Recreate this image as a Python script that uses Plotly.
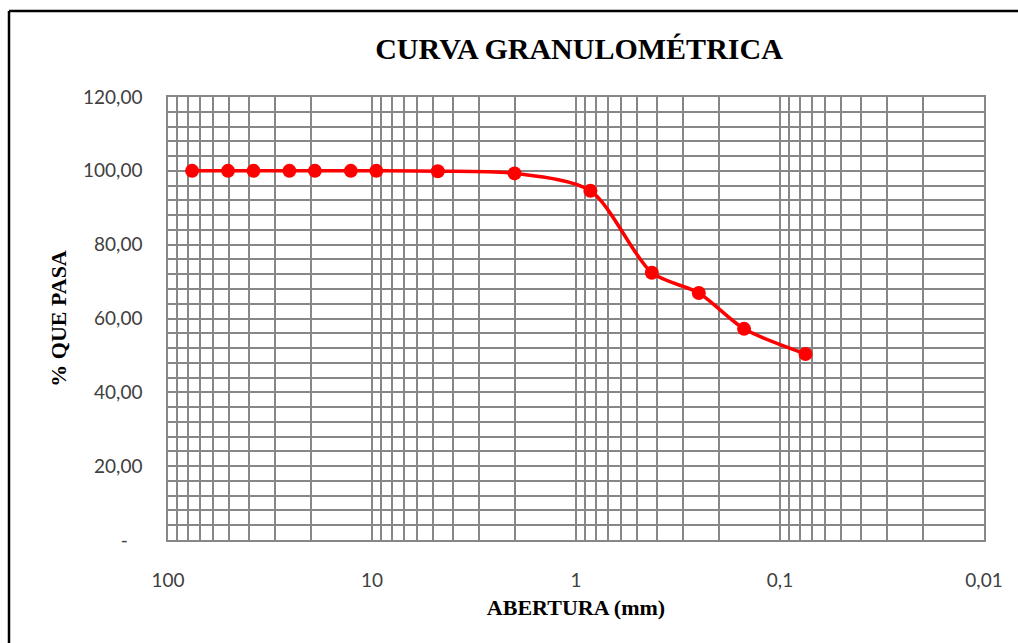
import plotly.graph_objects as go

# Data
abertura_mm = [76.2, 50.8, 38.1, 25.4, 19.05, 12.7, 9.525, 4.76, 2.0, 0.85, 0.425, 0.25, 0.15, 0.075]
pct_pasa = [100.0, 100.0, 100.0, 100.0, 100.0, 100.0, 100.0, 99.9, 99.3, 94.6, 72.4, 66.9, 57.2, 50.4]

x_major = [100, 10, 1, 0.1, 0.01]
x_major_text = ["100", "10", "1", "0,1", "0,01"]
y_major = [0, 20, 40, 60, 80, 100, 120]
y_major_text = ["-\u00a0\u00a0\u00a0", "20,00", "40,00", "60,00", "80,00", "100,00", "120,00"]

# Grid tick positions (log minors and y every 4)
x_ticks, x_text = [], []
for dec in [0.01, 0.1, 1, 10]:
    for m in range(1, 10):
        v = round(dec * m, 6)
        x_ticks.append(v)
        x_text.append(x_major_text[x_major.index(v)] if v in x_major else "")
x_ticks.append(100)
x_text.append("100")

y_ticks = list(range(0, 121, 4))
y_text = [y_major_text[y_major.index(v)] if v in y_major else "" for v in y_ticks]

grid_col = "#878787"

fig = go.Figure()
fig.add_trace(go.Scatter(
    x=abertura_mm, y=pct_pasa, mode="lines+markers",
    line=dict(color="#FF0000", width=3.5, shape="spline", smoothing=0.8),
    marker=dict(color="#FF0000", size=14),
    showlegend=False,
))

W, H = 1018, 643
L, R, T, B = 168, 34, 97, 103
pw, ph = W - L - R, H - T - B

fig.update_layout(
    width=W, height=H,
    margin=dict(l=L, r=R, t=T, b=B),
    paper_bgcolor="white", plot_bgcolor="white",
    title=dict(text="<b>CURVA GRANULOMÉTRICA</b>", x=579 / W, xanchor="center",
               y=1 - 48 / H, yanchor="middle",
               font=dict(family="Liberation Serif", size=30, color="#000000")),
    xaxis=dict(
        type="log", range=[2, -2],
        tickmode="array", tickvals=x_ticks, ticktext=x_text,
        showgrid=True, gridcolor=grid_col, gridwidth=1.5,
        ticks="", showline=True, linecolor=grid_col, linewidth=1.5, mirror=True,
        ticklabelstandoff=22,
        tickfont=dict(family="Lato", size=19, color="#404040"),
        title=dict(text="<b>ABERTURA (mm)</b>", standoff=10,
                   font=dict(family="Liberation Serif", size=22, color="#000000")),
        zeroline=False,
    ),
    yaxis=dict(
        range=[0, 120],
        tickmode="array", tickvals=y_ticks, ticktext=y_text,
        showgrid=True, gridcolor=grid_col, gridwidth=1.5,
        ticks="", showline=True, linecolor=grid_col, linewidth=1.5, mirror=True,
        ticklabelstandoff=20,
        tickfont=dict(family="Lato", size=19, color="#404040"),
        title=dict(text="<b>% QUE PASA</b>", standoff=10,
                   font=dict(family="Liberation Serif", size=22, color="#000000")),
        zeroline=False,
    ),
)

# Outer frame (left and top edges visible in reference)
def px_to_paper_x(px):
    return (px - L) / pw

def px_to_paper_y(py):
    return 1 - (py - T) / ph

fig.add_shape(type="line", xref="paper", yref="paper",
              x0=px_to_paper_x(9), x1=px_to_paper_x(9), y0=px_to_paper_y(11), y1=px_to_paper_y(645),
              line=dict(color="black", width=2.5))
fig.add_shape(type="line", xref="paper", yref="paper",
              x0=px_to_paper_x(9), x1=px_to_paper_x(1020), y0=px_to_paper_y(11), y1=px_to_paper_y(11),
              line=dict(color="black", width=2.5))

fig.write_html("out.html")
